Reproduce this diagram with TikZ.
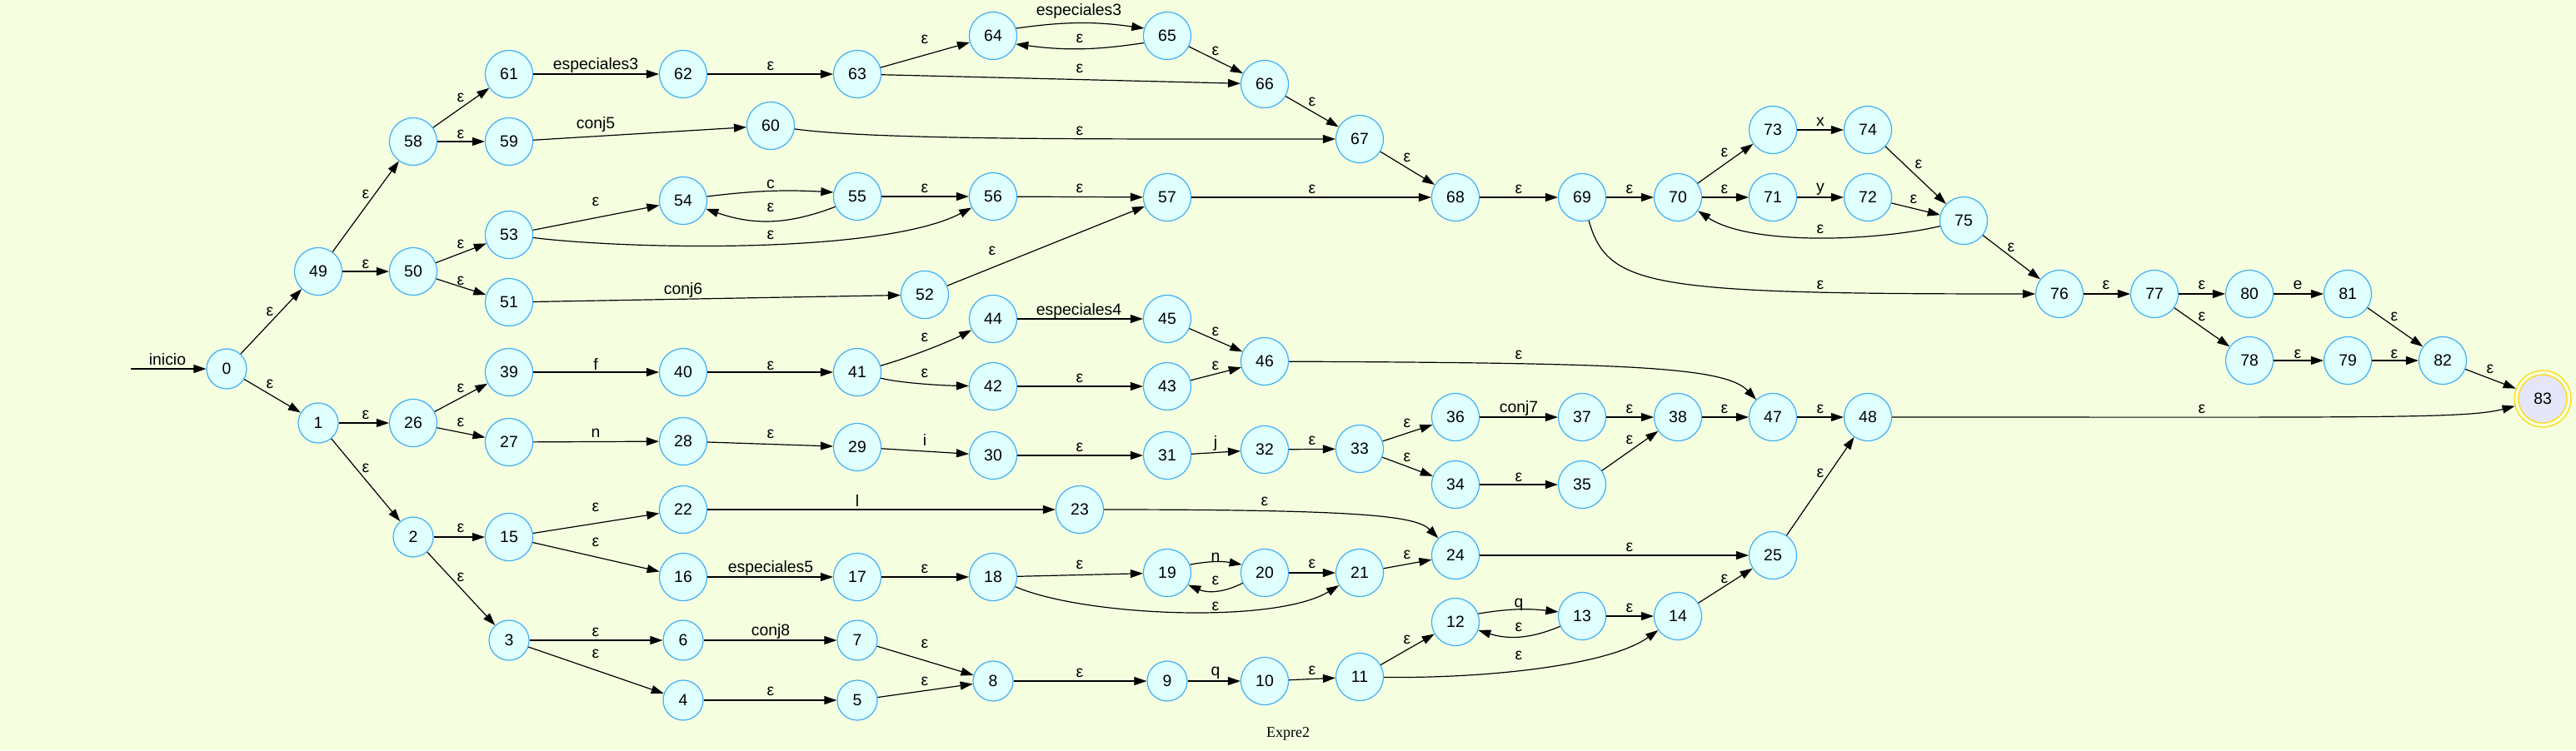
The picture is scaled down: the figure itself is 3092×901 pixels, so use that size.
\documentclass[tikz,border=0pt]{standalone}
\usepackage{fontspec}
\setmainfont{Liberation Sans}
\newfontfamily\ttlfont{Liberation Serif}
\usetikzlibrary{arrows.meta}
\definecolor{bgc}{HTML}{F5FFE0}
\definecolor{nfill}{HTML}{E0FFFF}
\definecolor{ndraw}{HTML}{40AEF5}
\definecolor{ffill}{HTML}{E6E6FA}
\definecolor{fdraw}{HTML}{FFD700}
\begin{document}
\begin{tikzpicture}[x=0.5pt,y=-0.5pt,
 st1/.style={circle,draw=ndraw,fill=nfill,line width=0.6pt,minimum size=24pt,inner sep=0pt,font=\fontsize{9.7}{11}\selectfont},
 st2/.style={st1,minimum size=28.5pt},
 finout/.style={circle,draw=fdraw,line width=0.6pt,minimum size=34pt,inner sep=0pt},
 finin/.style={circle,draw=fdraw,fill=ffill,line width=0.6pt,minimum size=29pt,inner sep=0pt,font=\fontsize{9.7}{11}\selectfont},
 edg/.style={line width=0.6pt,-{Triangle[length=7.5pt,width=5pt]}},
 lbl/.style={inner sep=0pt,font=\fontsize{9.7}{11}\selectfont},
 ttl/.style={inner sep=0pt,font=\ttlfont\fontsize{9}{11}\selectfont}]
\fill[bgc] (0,0) rectangle (3092,901);
\useasboundingbox (0,0) rectangle (3092,901);
% single-digit states
\foreach \n/\x/\y in {0/272/443,1/382/508,2/496/645,3/611/769,4/820/841,5/1029/841,6/820/769,7/1029/769,8/1192/818,9/1401/818}
  \node[st1] (n\n) at (\x,\y) {\n};
% two-digit states
\foreach \n/\x/\y in {10/1518/818,11/1632/813,12/1747/747,13/1899/740,14/2014/740,15/611/645,16/820/693,17/1029/693,18/1192/693,19/1401/688,
 20/1518/688,21/1632/688,22/820/612,23/1296/612,24/1747/667,25/2128/667,26/496/508,27/611/531,28/820/530,29/1029/537,
 30/1192/547,31/1401/547,32/1518/540,33/1632/539,34/1747/582,35/1899/582,36/1747/501,37/1899/501,38/2014/501,39/611/447,
 40/820/447,41/1029/447,42/1192/464,43/1401/464,44/1192/383,45/1401/383,46/1518/434,47/2128/501,48/2242/501,49/382/326,
 50/496/326,51/611/363,52/1110/354,53/611/282,54/820/241,55/1029/236,56/1192/236,57/1401/237,58/496/170,59/611/170,
 60/925/151,61/611/89,62/820/89,63/1029/89,64/1192/43,65/1401/43,66/1518/101,67/1632/167,68/1747/237,69/1899/237,
 70/2014/237,71/2128/237,72/2242/237,73/2128/156,74/2242/156,75/2357/265,76/2472/353,77/2586/353,78/2700/433,79/2818/433,
 80/2700/353,81/2818/353,82/2932/433}
  \node[st2] (n\n) at (\x,\y) {\n};
% final state
\node[finout] (n83) at (3052,479) {};
\node[finin] (n83in) at (n83) {83};
% start
\coordinate (start) at (157,443);
\draw[edg] (start) -- (n0);
% straight transitions
\foreach \a/\b in {0/49,0/1,49/58,49/50,58/61,58/59,61/62,62/63,63/64,63/66,65/66,66/67,67/68,59/60,50/53,50/51,53/54,55/56,56/57,57/68,
 51/52,52/57,68/69,69/70,70/73,70/71,73/74,71/72,74/75,72/75,75/76,76/77,77/80,77/78,80/81,81/82,78/79,79/82,82/83,1/26,1/2,
 26/39,26/27,39/40,40/41,44/45,45/46,42/43,43/46,27/28,28/29,29/30,30/31,31/32,32/33,33/36,33/34,36/37,37/38,34/35,35/38,
 38/47,47/48,2/15,2/3,15/22,15/16,22/23,24/25,25/48,16/17,17/18,18/19,20/21,21/24,3/6,3/4,6/7,7/8,4/5,5/8,8/9,9/10,10/11,
 11/12,13/14,14/25}
  \draw[edg] (n\a) -- (n\b);
% loops between pairs
\draw[edg] (n64.18) to[bend left=8] (n65.162);
\draw[edg] (n65.197) to[bend left=8] (n64.-20);
\draw[edg] (n54.10) to[bend left=5] (n55.170);
\draw[edg] (n55.205) to[bend left=20] (n54.-20);
\draw[edg] (n19.20) to[bend left=10] (n20.160);
\draw[edg] (n20.205) to[bend left=25] (n19.-30);
\draw[edg] (n12.20) to[bend left=8] (n13.170);
\draw[edg] (n13.205) to[bend left=20] (n12.-20);
% curved transitions
\draw[edg] (n60) .. controls (1050,168) and (1300,167) .. (n67);
\draw[edg] (n53) .. controls (760,300) and (1060,305) .. (n56);
\draw[edg] (n41) .. controls (1090,430) and (1140,410) .. (n44);
\draw[edg] (n41) .. controls (1080,460) and (1130,463) .. (n42);
\draw[edg] (n46) .. controls (1950,436) and (2070,440) .. (n47);
\draw[edg] (n69) .. controls (1930,345) and (1980,353) .. (n76);
\draw[edg] (n75) .. controls (2250,290) and (2100,295) .. (n70);
\draw[edg] (n23) .. controls (1640,612) and (1700,620) .. (n24);
\draw[edg] (n18) .. controls (1300,740) and (1530,750) .. (n21);
\draw[edg] (n11) .. controls (1780,815) and (1930,800) .. (n14);
\draw[edg] (n48) .. controls (2850,501) and (2960,503) .. (n83);
% labels
\foreach \t/\x/\y [count=\i] in {inicio/201/432,ε/324/374,ε/324/461,ε/439/233,ε/439/317,ε/553/117,ε/553/161,ε/553/293,ε/553/337,
 ε/439/498,ε/439/562,ε/553/466,ε/553/507,ε/553/634,ε/553/693,especiales3/715/78,conj5/715/149,ε/715/242,f/715/437,n/715/520,
 ε/715/609,ε/715/651,ε/715/759,ε/715/785,conj6/820/348,
 ε/925/79,ε/1110/47,especiales3/1295/13,ε/1296/46,ε/1296/82,ε/1459/61,ε/1296/157,c/925/221,ε/925/249,ε/925/282,ε/1110/226,
 ε/1296/226,ε/1191/301,especiales4/1295/373,ε/1459/398,ε/925/439,ε/1110/405,ε/1110/448,ε/1459/439,ε/1296/454,ε/925/521,
 i/1110/528,ε/1296/537,j/1459/532,l/1029/601,ε/1518/602,especiales5/925/682,ε/1110/683,ε/1296/678,n/1459/669,ε/1459/697,
 ε/1459/728,conj8/925/758,ε/1110/773,ε/1110/818,ε/925/830,ε/1296/808,q/1459/808,
 ε/1575/122,ε/1689/189,ε/1575/227,ε/1823/227,ε/1956/227,ε/2070/183,ε/2070/227,x/2185/146,y/2185/227,ε/2185/275,ε/2185/342,
 ε/1823/426,ε/2303/197,ε/2297/239,ε/1575/529,ε/1689/508,ε/1689/549,conj7/1823/490,ε/1956/491,ε/2070/491,ε/2185/491,
 ε/1956/528,ε/1823/573,ε/1689/666,ε/1956/657,ε/2185/568,ε/1575/677,q/1823/726,ε/1823/753,ε/1956/730,ε/1689/768,ε/1823/787,
 ε/2070/695,ε/1575/805,
 ε/2414/297,ε/2528/342,ε/2643/342,e/2758/342,ε/2643/380,ε/2874/380,ε/2758/425,ε/2874/425,ε/2989/443,ε/2643/491}
  \node[lbl] (lb\i) at (\x,\y) {\t};
\node[ttl] (title) at (1546,881) {Expre2};
\end{tikzpicture}
\end{document}
